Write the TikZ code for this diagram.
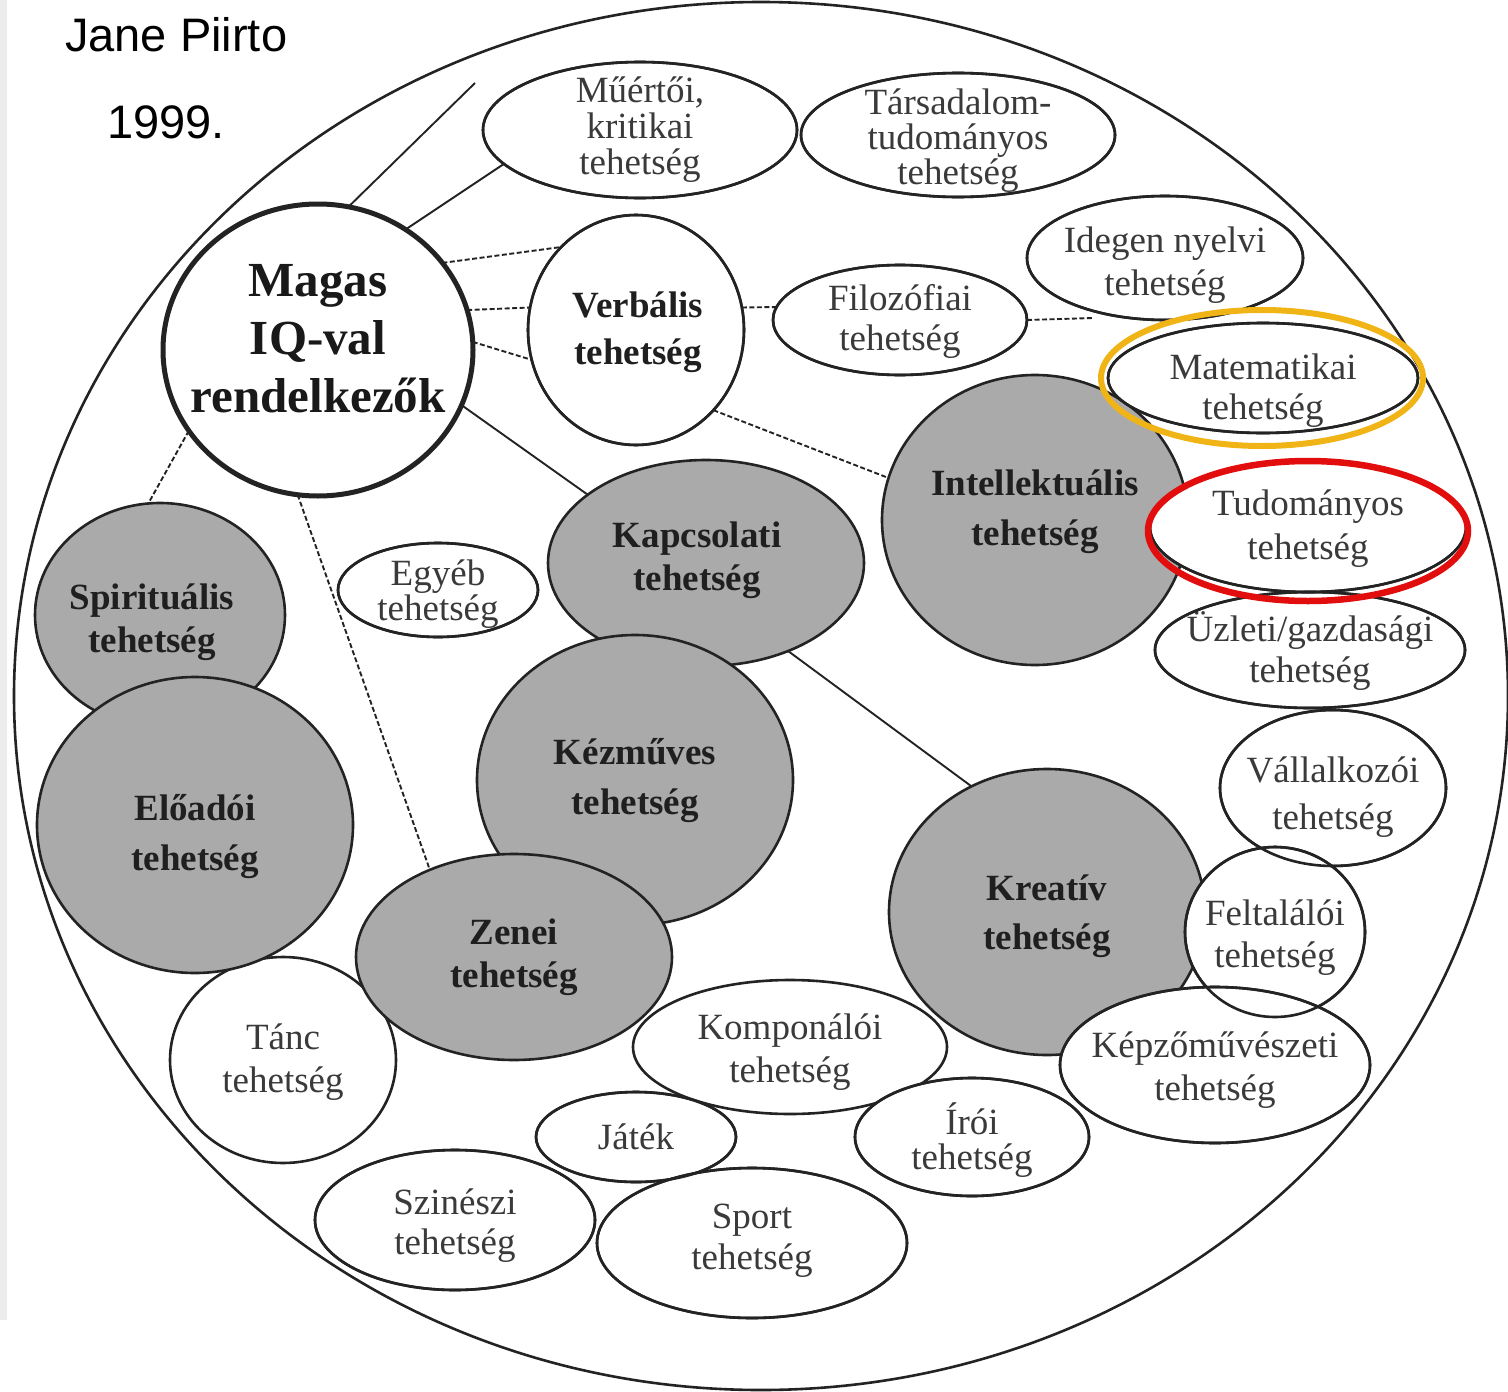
\documentclass[tikz,border=0pt]{standalone}
\usepackage{fontspec}
\setmainfont{Liberation Serif}
\newfontfamily\titlefont{Liberation Sans}
\usetikzlibrary{shapes.geometric,backgrounds,calc}

\definecolor{bubblegray}{RGB}{170,170,170}
\definecolor{inkline}{RGB}{35,35,35}
\definecolor{inktext}{RGB}{58,58,58}
\definecolor{markyellow}{RGB}{240,180,22}
\definecolor{markred}{RGB}{226,14,14}
\definecolor{edgegray}{RGB}{236,236,236}

\tikzset{
  baseshape/.style={ellipse, draw=inkline, line width=2.6pt, inner sep=0pt, outer sep=0pt},
  sz/.style 2 args={minimum width=#1pt, minimum height=#2pt},
  liteshape/.style={baseshape, fill=white},
  boldshape/.style={baseshape, fill=white},
  darkshape/.style={baseshape, fill=bubblegray},
  litetext/.style={inner sep=0pt, align=center, text=inktext, font=\fontsize{37}{#1}\selectfont},
  boldtext/.style={inner sep=0pt, align=center, text=black!88, font=\bfseries\fontsize{37}{#1}\selectfont},
  darktext/.style={inner sep=0pt, align=center, text=black!88, font=\bfseries\fontsize{37}{#1}\selectfont},
  link/.style={draw=inkline, line width=1.9pt},
  dlink/.style={link, dash pattern=on 5pt off 2.5pt},
  outline/.style={draw=inkline, line width=2.6pt},
  titletext/.style={inner sep=0pt, font=\titlefont\fontsize{47}{50}\selectfont, text=black}
}

% #1 kind, #2 name, #3/#4 centre, #5/#6 size, #7 line skip, #8 text offset, #9 text
\newcommand\talent[9]{%
  \node[#1shape, sz={#5}{#6}] (#2) at (#3,#4) {};
  \node[#1text=#7] (#2-t) at ($(#2)+(#8)$) {#9};
}

\begin{document}
\begin{tikzpicture}[x=1pt, y=-1pt]
\useasboundingbox (0,0) rectangle (1508,1392);

% title
\node[titletext, anchor=base west] (author) at (65,51) {Jane Piirto};
\node[titletext, anchor=base west] (year) at (107,138) {1999.};

% bubbles that lie underneath the grey ones
\talent{lite}{tanc}{283}{1060}{226}{206}{43}{0,2}{Tánc\\tehetség}
\talent{lite}{komp}{790}{1047}{314}{134}{43}{0,5}{Komponálói\\tehetség}

% grey bubbles
\talent{dark}{spir}{160}{615}{250}{224}{43}{-8,7}{Spirituális\\tehetség}
\talent{dark}{elo}{195}{825}{316}{296}{50}{0,12}{Előadói\\tehetség}
\talent{dark}{kapcs}{706}{563}{316}{206}{43}{-9,-3}{Kapcsolati\\tehetség}
\talent{dark}{kez}{635}{780}{316}{290}{50}{0,1}{Kézműves\\tehetség}
\talent{dark}{zenei}{514}{957}{316}{206}{43}{0,0}{Zenei\\tehetség}
\talent{dark}{intel}{1035}{520}{306}{290}{50}{0,-8}{Intellektuális\\tehetség}
\talent{dark}{kreat}{1047}{912}{316}{286}{49}{0,4}{Kreatív\\tehetség}

% central bubble
\node[baseshape, fill=white, line width=5pt, sz={310}{292}] (magas) at (318,350) {};
\node[inner sep=0pt, align=center, text=black!90, font=\bfseries\fontsize{49}{58}\selectfont] (magas-t) at ($(magas)+(0,-11)$) {Magas\\IQ-val\\rendelkezők};

% white bubbles on top
\talent{lite}{muert}{640}{130}{314}{136}{36}{0,0}{Műértői,\\kritikai\\tehetség}
\talent{lite}{tars}{958}{135}{314}{124}{35}{0,6}{Társadalom-\\tudományos\\tehetség}
\talent{lite}{ideg}{1165}{258}{276}{124}{43}{0,7}{Idegen nyelvi\\tehetség}
\talent{bold}{verb}{636}{330}{216}{230}{47}{2,2}{Verbális\\tehetség}
\talent{lite}{filoz}{900}{320}{254}{110}{40}{0,1}{Filozófiai\\tehetség}
\talent{lite}{matek}{1263}{378}{310}{110}{40}{0,13}{Matematikai\\tehetség}
\talent{lite}{uzl}{1310}{650}{310}{116}{40}{0,1}{Üzleti/gazdasági\\tehetség}
\talent{lite}{tud}{1308}{527}{316}{130}{44}{0,2}{Tudományos\\tehetség}
\talent{lite}{egyeb}{438}{590}{200}{94}{32}{0,4}{Egyéb\\tehetség}
\talent{lite}{vall}{1333}{788}{226}{156}{47}{0,9}{Vállalkozói\\tehetség}
\talent{lite}{felt}{1275}{932}{180}{170}{42}{0,6}{Feltalálói\\tehetség}
\talent{lite}{kepz}{1215}{1065}{310}{156}{43}{0,5}{Képzőművészeti\\tehetség}
\talent{lite}{jatek}{636}{1137}{200}{90}{40}{0,0}{Játék}
\talent{lite}{iroi}{972}{1137}{234}{118}{35}{0,3}{Írói\\tehetség}
\talent{lite}{szin}{455}{1220}{280}{140}{40}{0,6}{Szinészi\\tehetség}
\talent{lite}{sport}{752}{1243}{310}{150}{41}{0,-2}{Sport\\tehetség}

% outlines of the white bubbles, so that crossing borders stay visible
\foreach \bub in {muert,tars,ideg,verb,filoz,matek,uzl,tud,egyeb,vall,felt,kepz,jatek,iroi,szin,sport}{
  \draw[outline] let \p0=(\bub.center), \p1=(\bub.east), \p2=(\bub.north) in
    (\p0) ellipse [x radius={\x1-\x0}, y radius={\y2-\y0}];
}

% highlight rings
\coordinate (matekring) at (1262,378);
\coordinate (tudring) at (1308,531);
\draw[markyellow, line width=6pt] (matekring) ellipse [x radius=161pt, y radius=68pt];
\draw[markred, line width=6.5pt] (tudring) ellipse [x radius=160pt, y radius=70pt];

% frame and connectors underneath the bubbles
\begin{scope}[on background layer]
  \fill[edgegray] (0,0) rectangle (7,1320);
  \node[ellipse, draw=inkline, line width=2.6pt, minimum width=1494pt, minimum height=1388pt, inner sep=0pt, outer sep=0pt] (field) at (761,696) {};
  \coordinate (topend) at (475,83);
  \coordinate (filozend) at (1093,318);
  \draw[link] (magas.78) -- (topend);
  \draw[link] (magas.54) -- (muert.194);
  \draw[dlink] (magas.35) -- (verb.132);
  \draw[dlink] (magas.15.5) -- (verb.168);
  \draw[dlink] (magas.3.6) -- (verb.196);
  \draw[dlink] (verb.12) -- (filoz.174);
  \draw[dlink] (filoz.0) -- (filozend);
  \draw[dlink] (verb.-46.5) -- (intel.164.5);
  \draw[link] (magas.-21.8) -- (kapcs.150.6);
  \draw[dlink] (magas.212) -- (spir.96);
  \draw[dlink] (magas.262) -- (zenei.134.7);
  \draw[link] (kapcs.-47.6) -- (kreat.121.9);
\end{scope}
\end{tikzpicture}
\end{document}
